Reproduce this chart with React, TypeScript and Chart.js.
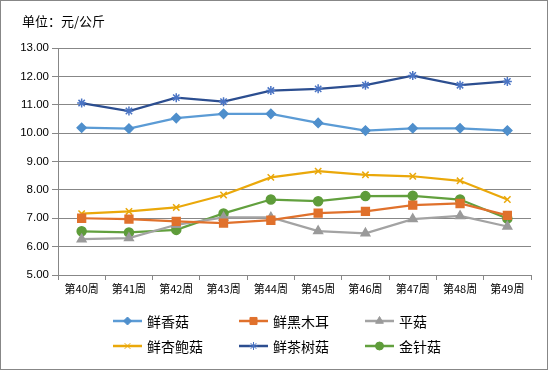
import React, { useEffect, useRef } from 'react';
import { Chart, registerables } from 'chart.js';
import { drawPoint } from 'chart.js/helpers';

Chart.register(...registerables);

const weeks = ['第40周', '第41周', '第42周', '第43周', '第44周', '第45周', '第46周', '第47周', '第48周', '第49周'];
const xianXiangGu = [10.19, 10.16, 10.53, 10.68, 10.68, 10.36, 10.09, 10.17, 10.17, 10.09];
const xianHeiMuEr = [7.0, 6.97, 6.89, 6.83, 6.93, 7.18, 7.24, 7.46, 7.52, 7.1];
const pingGu = [6.26, 6.3, 6.77, 7.03, 7.03, 6.55, 6.47, 6.97, 7.08, 6.71];
const xingBaoGu = [7.16, 7.24, 7.38, 7.82, 8.44, 8.66, 8.53, 8.48, 8.32, 7.66];
const chaShuGu = [11.06, 10.78, 11.25, 11.11, 11.5, 11.56, 11.69, 12.03, 11.69, 11.82];
const jinZhenGu = [6.54, 6.5, 6.59, 7.17, 7.66, 7.6, 7.78, 7.79, 7.66, 6.99];

const seriesNames = ['鲜香菇', '鲜黑木耳', '平菇', '鲜杏鲍菇', '鲜茶树菇', '金针菇'];
const seriesData = [xianXiangGu, xianHeiMuEr, pingGu, xingBaoGu, chaShuGu, jinZhenGu];
const seriesColors = ['#5B9BD5', '#E0712C', '#A3A3A3', '#EAA80A', '#2C4E90', '#62A03E'];
const markerColors = ['#4F8FCC', '#E0712C', '#9A9A9A', '#EAA80A', '#4A74C4', '#5E9C3A'];
const markerStyles = ['rectRot', 'rect', 'triangle', 'crossRot', 'star', 'circle'];
const markerRadius = [4.5, 5.5, 5, 4.5, 4.5, 4.5];

const yMin = 5;
const yMax = 13;
const unitTitle = '单位：元/公斤';

const FONT = '"Noto Sans CJK SC", "DejaVu Sans", sans-serif';

const decorPlugin = {
  id: 'decor',
  afterDraw(chart: any) {
    const ctx = chart.ctx as CanvasRenderingContext2D;
    ctx.save();
    ctx.strokeStyle = '#878787';
    ctx.lineWidth = 1;
    ctx.strokeRect(0.5, 0.5, chart.width - 2, chart.height - 1);
    ctx.fillStyle = '#000';
    ctx.font = `13px ${FONT}`;
    ctx.textBaseline = 'middle';
    ctx.textAlign = 'left';
    ctx.fillText(unitTitle, 22, 21);
    const ds = chart.data.datasets;
    const colStart = 113;
    const colStep = 126;
    const rowY = [321, 346];
    ctx.font = `14px ${FONT}`;
    ds.forEach((d: any, i: number) => {
      const col = i % 3;
      const row = Math.floor(i / 3);
      const x0 = colStart + col * colStep;
      const y = rowY[row];
      ctx.strokeStyle = d.borderColor;
      ctx.lineWidth = 2.5;
      ctx.beginPath();
      ctx.moveTo(x0, y);
      ctx.lineTo(x0 + 29, y);
      ctx.stroke();
      ctx.fillStyle = d.pointBackgroundColor;
      ctx.strokeStyle = d.pointBorderColor;
      ctx.lineWidth = 1;
      drawPoint(ctx, { pointStyle: d.pointStyle, radius: d.pointRadius - 0.5, rotation: 0, borderWidth: 1 }, x0 + 14.5, y);
      ctx.fillStyle = '#000';
      ctx.fillText(d.label, x0 + 34, y + 1);
    });
    ctx.restore();
  },
};

export default function App() {
  const ref = useRef<HTMLCanvasElement | null>(null);
  useEffect(() => {
    if (!ref.current) return;
    const chart = new Chart(ref.current, {
      type: 'line',
      data: {
        labels: weeks,
        datasets: seriesNames.map((name, i) => ({
          label: name,
          data: seriesData[i],
          borderColor: seriesColors[i],
          backgroundColor: seriesColors[i],
          borderWidth: 2.25,
          pointStyle: markerStyles[i] as any,
          pointRadius: markerRadius[i],
          pointBackgroundColor: markerColors[i],
          pointBorderColor: markerColors[i],
          pointBorderWidth: 1.5,
          tension: 0,
        })),
      },
      options: {
        responsive: false,
        animation: false,
        devicePixelRatio: 1,
        layout: { padding: { top: 48, right: 18, left: 0, bottom: 0 } },
        plugins: { legend: { display: false }, tooltip: { enabled: false }, title: { display: false } },
        scales: {
          x: {
            offset: true,
            grid: {
              offset: true,
              drawOnChartArea: false,
              drawTicks: true,
              tickLength: 5,
              color: '#878787',
            },
            border: { color: '#878787', width: 1 },
            ticks: { color: '#000', font: { family: FONT, size: 11 }, padding: 2, maxRotation: 0, autoSkip: false },
            afterFit: (s: any) => { s.height = 95; },
          },
          y: {
            min: yMin,
            max: yMax,
            grid: { color: '#878787', tickLength: 6, drawTicks: true },
            border: { color: '#878787', width: 1 },
            ticks: {
              stepSize: 1,
              color: '#000',
              font: { family: '"Liberation Sans", "DejaVu Sans", sans-serif', size: 11.5 },
              padding: 3,
              callback: (v: any) => Number(v).toFixed(2),
            },
            afterFit: (s: any) => { s.width = 58; },
          },
        },
      },
      plugins: [decorPlugin],
    });
    return () => chart.destroy();
  }, []);
  return (
    <div style={{ position: 'fixed', left: 0, top: 0, width: 549, height: 370, background: '#fff' }}>
      <canvas ref={ref} width={549} height={370} style={{ width: 549, height: 370, display: 'block' }} />
    </div>
  );
}
